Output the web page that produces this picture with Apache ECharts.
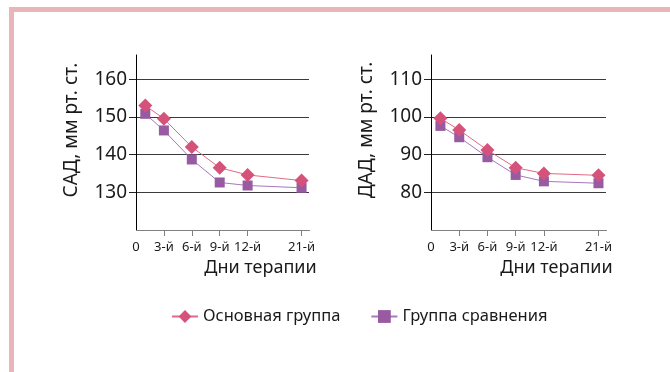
<!DOCTYPE html>
<html>
<head>
<meta charset="utf-8">
<script src="https://cdn.jsdelivr.net/npm/echarts@6/dist/echarts.min.js"></script>
<style>
html,body{margin:0;padding:0;background:#fff;}
#c{width:670px;height:372px;}
</style>
</head>
<body>
<div id="c"></div>
<script>
// ---- data ----
const days = [1, 3, 6, 9, 12, 21];
const tickDays = [3, 6, 9, 12, 21];
const sadMain = [153.0, 149.5, 142.0, 136.5, 134.6, 133.1];
const sadComp = [150.8, 146.4, 138.7, 132.6, 131.8, 131.2];
const dadMain = [99.6, 96.5, 91.2, 86.5, 85.0, 84.5];
const dadComp = [97.6, 94.6, 89.3, 84.6, 82.9, 82.4];
const sadTicks = [130, 140, 150, 160];
const dadTicks = [80, 90, 100, 110];
const seriesNames = ['Основная группа', 'Группа сравнения'];
const xName = 'Дни терапии';
const yNames = ['САД, мм рт. ст.', 'ДАД, мм рт. ст.'];

const FONT = 'Noto Sans';
const pts = (arr) => days.map((d, i) => [d, arr[i]]);

function xAxis(gi) {
  return {
    type: 'value', gridIndex: gi, min: 0, max: 21.8,
    breaks: [{ start: 13.5, end: 16.7, gap: 0 }],
    breakArea: { show: false, itemStyle: { opacity: 0, borderWidth: 0 } },
    axisLine: { onZero: false, lineStyle: { color: '#808080', width: 1 } },
    axisTick: { show: true, customValues: tickDays, length: 6, lineStyle: { color: '#808080' } },
    axisLabel: {
      customValues: [0].concat(tickDays), fontSize: 13, color: '#1a1a1a', margin: 11, fontFamily: FONT,
      formatter: v => v === 0 ? '0' : v + '-й'
    },
    splitLine: { show: false },
    name: xName, nameLocation: 'middle', nameGap: 29,
    nameTextStyle: { fontSize: 18, color: '#1a1a1a', fontFamily: FONT, padding: [0, 0, 0, 76] }
  };
}
function yAxis(gi, min, max, ticks, name) {
  return {
    type: 'value', gridIndex: gi, min: min, max: max,
    axisLine: { show: true, onZero: false, lineStyle: { color: '#000', width: 1 } },
    axisTick: { show: true, customValues: ticks, length: 7, lineStyle: { color: '#222' } },
    axisLabel: { customValues: ticks, fontSize: 19, color: '#1a1a1a', margin: 9, fontFamily: FONT },
    splitLine: { show: true, lineStyle: { color: '#3a3a3a', width: 1 } },
    name: name, nameLocation: 'middle', nameGap: 55,
    nameTextStyle: { fontSize: 19, color: '#1a1a1a', fontFamily: FONT, padding: [0, 0, 0, 25] }
  };
}
function mainSeries(name, arr, xi, yi) {
  return {
    name: name, type: 'line', xAxisIndex: xi, yAxisIndex: yi, data: pts(arr),
    symbol: 'diamond', symbolSize: 14, z: 4,
    itemStyle: { color: '#d5537a' }, lineStyle: { color: '#e06a88', width: 1 }
  };
}
function compSeries(name, arr, xi, yi) {
  return {
    name: name, type: 'line', xAxisIndex: xi, yAxisIndex: yi, data: pts(arr),
    symbol: 'rect', symbolSize: 10, z: 3,
    itemStyle: { color: '#985aa0' }, lineStyle: { color: '#a878b8', width: 1 }
  };
}

const chart = echarts.init(document.getElementById('c'));
chart.setOption({
  backgroundColor: '#fff',
  animation: false,
  textStyle: { fontFamily: FONT },
  graphic: [
    { type: 'rect', shape: { x: 9, y: 7, width: 661, height: 5 }, style: { fill: '#e8b5b9' } },
    { type: 'rect', shape: { x: 9, y: 7, width: 5, height: 365 }, style: { fill: '#e8b5b9' } }
  ],
  legend: {
    data: seriesNames, top: 303, left: 166,
    itemWidth: 26, itemHeight: 16, itemGap: 30,
    textStyle: { fontSize: 16.5, color: '#1a1a1a', fontFamily: FONT }
  },
  grid: [
    { left: 136, top: 55, width: 173, height: 175 },
    { left: 431, top: 55, width: 175, height: 175 }
  ],
  xAxis: [xAxis(0), xAxis(1)],
  yAxis: [yAxis(0, 120, 166.4, sadTicks, yNames[0]), yAxis(1, 70, 116.4, dadTicks, yNames[1])],
  series: [
    mainSeries(seriesNames[0], sadMain, 0, 0),
    compSeries(seriesNames[1], sadComp, 0, 0),
    mainSeries(seriesNames[0], dadMain, 1, 1),
    compSeries(seriesNames[1], dadComp, 1, 1)
  ]
});
</script>
</body>
</html>
